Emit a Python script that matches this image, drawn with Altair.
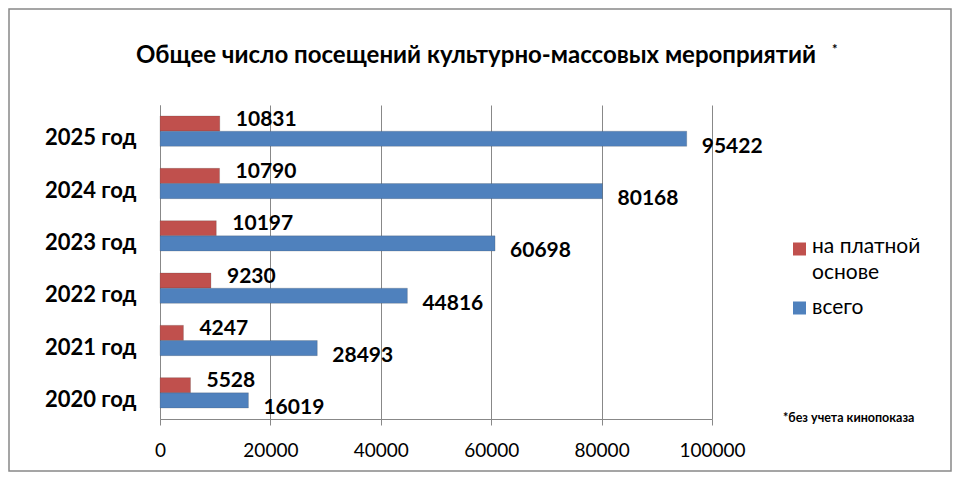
import altair as alt
import pandas as pd

years = ["2025 год", "2024 год", "2023 год", "2022 год", "2021 год", "2020 год"]
paid = [10831, 10790, 10197, 9230, 4247, 5528]
total = [95422, 80168, 60698, 44816, 28493, 16019]
series = ["на платной основе", "всего"]
colors = ["#C0504D", "#4F81BD"]
x_ticks = [0, 20000, 40000, 60000, 80000, 100000]
title_text = "Общее число посещений культурно-массовых мероприятий"
note_text = "*без учета кинопоказа"

rows = []
for y, p, t in zip(years, paid, total):
    rows.append({"year": y, "series": series[0], "value": p})
    rows.append({"year": y, "series": series[1], "value": t})
df = pd.DataFrame(rows)

FONT = "Lato"

base = alt.Chart(df).encode(
    y=alt.Y("year:N", sort=years,
            scale=alt.Scale(paddingInner=0.42, paddingOuter=0.21),
            axis=alt.Axis(title=None, labelFont=FONT, labelFontSize=22, labelFontWeight="bold",
                          labelColor="black", ticks=False, labelPadding=24, labelOffset=7,
                          domain=True, domainColor="#888888", grid=False)),
    yOffset=alt.YOffset("series:N", sort=series, scale=alt.Scale(paddingInner=0.0)),
)

bars = base.mark_bar(stroke="#3a3a3a", strokeWidth=0.4, strokeOpacity=0.5).encode(
    x=alt.X("value:Q", scale=alt.Scale(domain=[0, 100000], nice=False),
            axis=alt.Axis(title=None, values=x_ticks, format="d", labelFont=FONT,
                          labelFontSize=19, labelColor="black", labelPadding=16,
                          labelFlush=False, labelBound=False,
                          ticks=True, tickSize=6, tickColor="#888888",
                          grid=True, gridColor="#888888", gridWidth=1,
                          domainColor="#888888")),
    color=alt.Color("series:N", sort=series,
                    scale=alt.Scale(domain=series, range=colors), legend=None),
)

paid_labels = base.transform_filter(alt.datum.series == series[0]).mark_text(
    align="left", baseline="middle", dx=16, dy=-4, font=FONT, fontSize=21,
    fontWeight="bold", color="black"
).encode(x="value:Q", text=alt.Text("value:Q", format="d"))

total_labels = base.transform_filter(alt.datum.series == series[1]).mark_text(
    align="left", baseline="middle", dx=15, dy=8, font=FONT, fontSize=21,
    fontWeight="bold", color="black"
).encode(x="value:Q", text=alt.Text("value:Q", format="d"))

one = pd.DataFrame({"t": [title_text]})

title = alt.Chart(one).mark_text(
    align="center", baseline="middle", font=FONT, fontSize=24, fontWeight="bold", color="black"
).encode(x=alt.value(316), y=alt.value(-49), text=alt.value(title_text))

star = alt.Chart(one).mark_text(
    align="left", baseline="middle", font=FONT, fontSize=13, fontWeight="bold", color="black"
).encode(x=alt.value(672), y=alt.value(-55), text=alt.value("*"))

note = alt.Chart(one).mark_text(
    align="left", baseline="middle", font=FONT, fontSize=12.5, fontWeight="bold", color="black"
).encode(x=alt.value(623), y=alt.value(313), text=alt.value(note_text))

legend_sym_red = alt.Chart(one).mark_square(size=169, color=colors[0], opacity=1).encode(
    x=alt.value(639.5), y=alt.value(144))
legend_sym_blue = alt.Chart(one).mark_square(size=169, color=colors[1], opacity=1).encode(
    x=alt.value(639.5), y=alt.value(203))
legend_txt_red = alt.Chart(one).mark_text(
    align="left", baseline="middle", font=FONT, fontSize=21, color="black", lineHeight=26
).encode(x=alt.value(652), y=alt.value(142), text=alt.value(["на платной", "основе"]))
legend_txt_blue = alt.Chart(one).mark_text(
    align="left", baseline="middle", font=FONT, fontSize=21, color="black"
).encode(x=alt.value(652), y=alt.value(203), text=alt.value(series[1]))

border = alt.Chart(one).mark_rect(fill=None, stroke="#888888", strokeWidth=1.5).encode(
    x=alt.value(-151), x2=alt.value(791), y=alt.value(-96), y2=alt.value(366)
)

chart = alt.layer(border, bars, paid_labels, total_labels, title, star, note,
                  legend_sym_red, legend_sym_blue, legend_txt_red, legend_txt_blue).properties(
    width=552, height=314,
    padding={"left": 152, "top": 97, "right": 240, "bottom": 53},
    autosize=alt.AutoSizeParams(type="none"),
).configure_view(stroke=None).configure_axis(domainWidth=1)

chart.save("out.html", embed_options={"renderer": "svg", "actions": False})
